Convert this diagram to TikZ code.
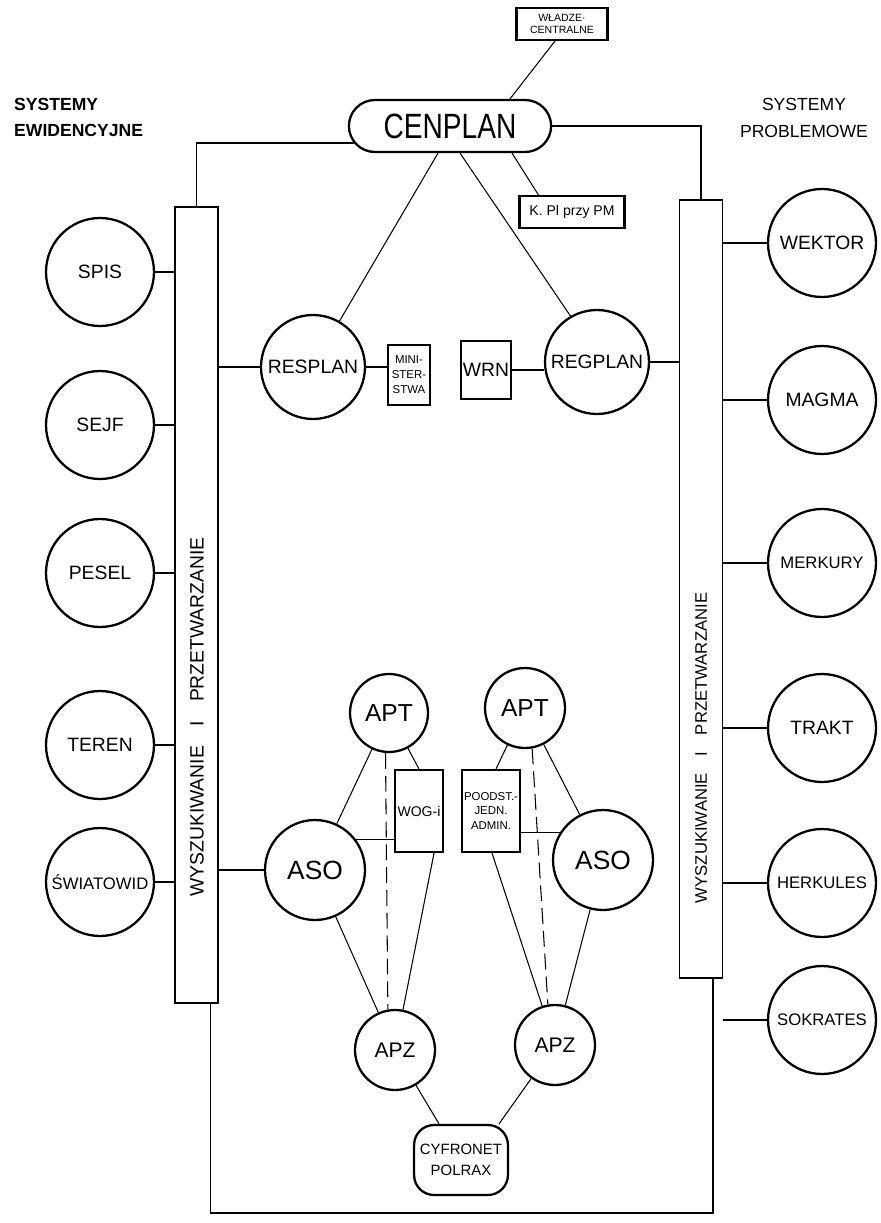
\documentclass[tikz,border=0pt]{standalone}
\usepackage{fontspec}
\setmainfont{Liberation Sans}
\usetikzlibrary{calc,shapes.misc}
\newcommand{\narrow}[1]{\scalebox{0.8}[1]{#1}}

\begin{document}
\begin{tikzpicture}[x=0.02cm, y=-0.02cm,
    sys/.style={circle, draw, line width=1.3pt, inner sep=0pt, minimum size=2.16cm,
                font=\fontsize{11}{13}\selectfont},
    mid/.style={circle, draw, line width=1.3pt, inner sep=0pt, font=\fontsize{11}{13}\selectfont},
    tab/.style={draw, line width=1.2pt, inner sep=1pt, align=center,
                font=\fontsize{6.5}{8.5}\selectfont},
    bar/.style={draw, line width=1.1pt, minimum width=0.86cm},
    bartxt/.style={rotate=90, font=\fontsize{11}{13}\selectfont},
    conn/.style={line width=0.6pt},
    brk/.style={line width=0.6pt, dash pattern=on 9pt off 4pt},
    head/.style={align=left, font=\fontsize{10}{15}\selectfont}]
  \useasboundingbox (0,0) rectangle (881,1223);

  % headings
  \node[head, anchor=north west, font=\fontsize{10}{15}\selectfont\bfseries] (hdL) at (8,92) {SYSTEMY\\EWIDENCYJNE};
  \node[head, align=center] (hdR) at (804,118) {SYSTEMY\\PROBLEMOWE};

  % top
  \node[rounded rectangle, draw, line width=1.3pt, minimum width=4.28cm, minimum height=1.04cm,
        font=\fontsize{20}{24}\selectfont] (cenplan) at (450,126) {\narrow{CENPLAN}};
  \node[tab, minimum width=1.82cm, minimum height=0.64cm, font=\fontsize{6}{7}\selectfont] (wladze) at (562,24) {WŁADZE·\\CENTRALNE};
  \node[tab, minimum width=2.1cm, minimum height=0.64cm, font=\fontsize{8}{9}\selectfont] (kpl) at (572,212) {K. Pl przy PM};

  % bars
  \node[bar, minimum height=15.92cm] (barL) at (196.5,605) {};
  \node[bar, minimum height=15.56cm] (barR) at (701,589) {};
  \node[bartxt] (txtL) at (197,717) {WYSZUKIWANIE\quad I\quad PRZETWARZANIE};
  \node[bartxt, font=\fontsize{9.5}{11}\selectfont] (txtR) at (701,748) {WYSZUKIWANIE\quad I\quad PRZETWARZANIE};

  % systemy ewidencyjne
  \node[sys] (spis) at (100,272) {SPIS};
  \node[sys] (sejf) at (100,425) {SEJF};
  \node[sys] (pesel) at (100,573) {PESEL};
  \node[sys] (teren) at (100,745) {TEREN};
  \node[sys, font=\fontsize{9.5}{11}\selectfont] (swiat) at (100,882) {ŚWIATOWID};

  % systemy problemowe
  \node[sys] (wektor) at (822,243) {WEKTOR};
  \node[sys] (magma) at (822,400) {MAGMA};
  \node[sys, font=\fontsize{9.5}{11}\selectfont] (merkury) at (822,563) {MERKURY};
  \node[sys] (trakt) at (822,728) {TRAKT};
  \node[sys, font=\fontsize{9.5}{11}\selectfont] (herkules) at (822,883) {HERKULES};
  \node[sys, font=\fontsize{9.5}{11}\selectfont] (sokrates) at (822,1020) {SOKRATES};

  % plan level
  \node[mid, minimum size=2.08cm] (resplan) at (313,367) {RESPLAN};
  \node[tab, minimum width=0.84cm, minimum height=1.2cm] (minist) at (409,375) {MINI-\\STER-\\STWA};
  \node[tab, minimum width=0.8cm, minimum height=1.16cm, font=\fontsize{11}{13}\selectfont] (wrn) at (486,370) {WRN};
  \node[mid, minimum size=2.08cm] (regplan) at (597,362) {REGPLAN};

  % lower level
  \node[mid, minimum size=1.56cm, font=\fontsize{14}{16}\selectfont] (aptL) at (389,713) {APT};
  \node[mid, minimum size=1.6cm, font=\fontsize{14}{16}\selectfont] (aptR) at (525,708) {APT};
  \node[mid, minimum size=2cm, font=\fontsize{15}{17}\selectfont] (asoL) at (315,870) {ASO};
  \node[mid, minimum size=2cm, font=\fontsize{15}{17}\selectfont] (asoR) at (603,860) {ASO};
  \node[mid, minimum size=1.6cm, font=\fontsize{12}{14}\selectfont] (apzL) at (395,1050) {APZ};
  \node[mid, minimum size=1.6cm, font=\fontsize{12}{14}\selectfont] (apzR) at (555,1045) {APZ};
  \node[tab, minimum width=0.96cm, minimum height=1.64cm, font=\fontsize{8}{10}\selectfont] (wog) at (419,811) {WOG-i};
  \node[tab, minimum width=1.04cm, minimum height=1.64cm] (pjed) at (491,811) {POODST.-\\JEDN.\\ADMIN.};
  \node[draw, line width=1.3pt, rounded corners=0.4cm, minimum width=1.64cm, minimum height=1.4cm,
        align=center, font=\fontsize{8.5}{12}\selectfont] (cyf) at (461,1160) {CYFRONET\\POLRAX};

  % connectors at the top
  \draw[conn] ($(wladze.south)+(-7,0)$) -- ($(cenplan.north)+(60,0)$);
  \draw[conn] (cenplan.190) -| (barL.north);
  \draw[conn] (cenplan.east) -| (barR.north);
  \draw[conn] ($(cenplan.south)+(-12,0)$) -- (resplan.60);
  \draw[conn] ($(cenplan.south)+(10,0)$) -- (regplan.120);
  \draw[conn] ($(cenplan.south)+(62,0)$) -- ($(kpl.north west)+(20,0)$);

  % connectors to the bars
  \foreach \s in {spis,sejf,pesel,teren,swiat}
    \draw[conn] (\s.east) -- (\s.east -| barL.west);
  \foreach \s in {wektor,magma,merkury,trakt,herkules,sokrates}
    \draw[conn] (barR.east |- \s.west) -- (\s.west);
  \draw[conn] (barL.east |- resplan.west) -- (resplan.west);
  \draw[conn] (resplan.east) -- (resplan.east -| minist.west);
  \draw[conn] (wrn.east) -- (wrn.east -| regplan.west);
  \draw[conn] (regplan.east) -- (regplan.east -| barR.west);
  \draw[conn] (barL.east |- asoL.west) -- (asoL.west);

  % lower network
  \draw[conn] (aptL) -- (asoL);
  \draw[conn] (aptL) -- (wog.north);
  \draw[conn] ($(wog.south east)+(-10,0)$) -- (apzL);
  \draw[brk] (aptL.265) -- (apzL.100);
  \draw[conn] (asoL.37) -- (asoL.37 -| wog.west);
  \draw[conn] (asoL) -- (apzL);
  \draw[conn] (aptR) -- ($(pjed.north)+(5,0)$);
  \draw[conn] (aptR) -- (asoR);
  \draw[brk] (aptR.280) -- (apzR.100);
  \draw[conn] (asoR.147 -| pjed.east) -- (asoR.147);
  \draw[conn] ($(pjed.south)+(1,0)$) -- (apzR);
  \draw[conn] (asoR) -- (apzR);
  \draw[conn] (apzL) -- ($(cyf.north)+(-22,0)$);
  \draw[conn] (apzR) -- ($(cyf.north)+(38,0)$);

  % bottom loop
  \coordinate (loop) at (0,1213);
  \draw[conn] ($(barL.south)+(14,0)$) -- ($(barL.south |- loop)+(14,0)$)
    -| ($(barR.south)+(12,0)$);
\end{tikzpicture}
\end{document}
